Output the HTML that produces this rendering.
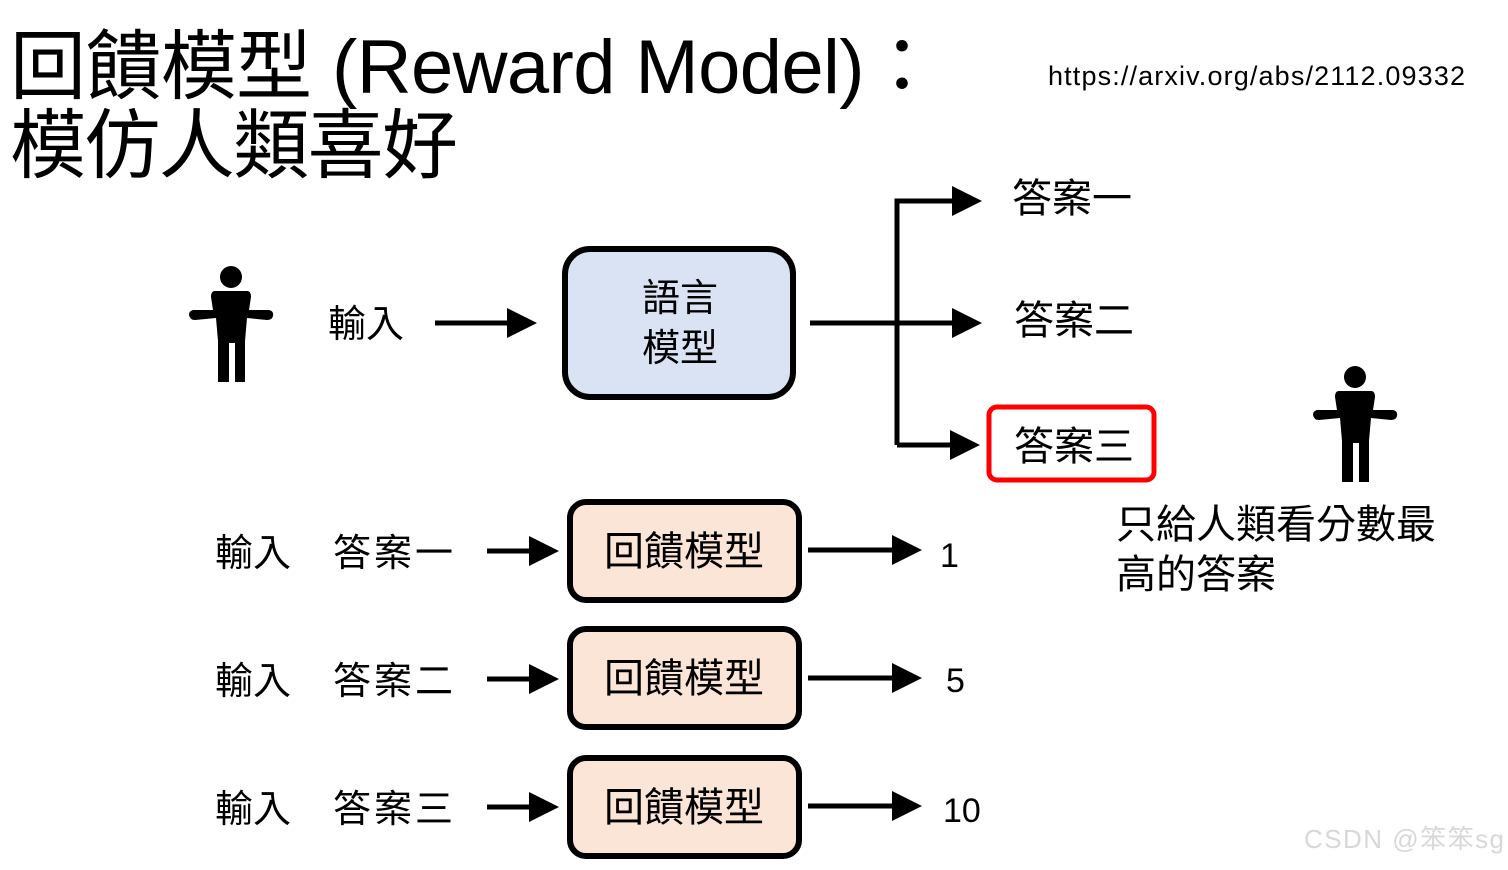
<!DOCTYPE html>
<html><head><meta charset="utf-8"><style>
html,body{margin:0;padding:0;background:#fff;}
svg text{font-family:"Liberation Sans","Noto Sans CJK TC",sans-serif;fill:#000;}
</style></head><body>
<svg width="1508" height="865" viewBox="0 0 1508 865" xmlns="http://www.w3.org/2000/svg">
<defs>
<marker id="ah" markerWidth="6" markerHeight="6" refX="5" refY="3" orient="auto" markerUnits="strokeWidth">
<path d="M0,0 L6,3 L0,6 z" fill="#000"/></marker>
<g id="person">
<circle cx="0" cy="0" r="11"/>
<path d="M-16,14 L16,14 Q20,14 20,20 L18,33 L38,33 Q43,34 42,39 Q41,43 36,43 L16,41 L14,64 L14,105 L4,105 L4,66 L-2,66 L-2,105 L-13,105 L-13,64 L-15,41 L-36,43 Q-41,43 -42,38 Q-42,34 -38,33 L-18,33 L-20,20 Q-20,14 -16,14 Z"/>
</g>
</defs>
<text x="10" y="93" font-size="76" textLength="930">回饋模型 (Reward Model)：</text>
<text x="10" y="172" font-size="76" textLength="448">模仿人類喜好</text>
<text x="1048" y="85" font-size="27" textLength="417">https://arxiv.org/abs/2112.09332</text>

<use href="#person" x="231" y="277"/>
<use href="#person" x="1355" y="377"/>

<g stroke="#000" stroke-width="5" fill="none">
<line x1="435" y1="323" x2="532" y2="323" marker-end="url(#ah)"/>
<line x1="810" y1="323" x2="977" y2="323" marker-end="url(#ah)"/>
<polyline points="897,445 897,201 977,201" marker-end="url(#ah)"/>
<line x1="897" y1="445" x2="975" y2="445" marker-end="url(#ah)"/>
<line x1="487" y1="551" x2="554" y2="551" marker-end="url(#ah)"/>
<line x1="808" y1="550" x2="917" y2="550" marker-end="url(#ah)"/>
<line x1="487" y1="679" x2="554" y2="679" marker-end="url(#ah)"/>
<line x1="808" y1="678" x2="917" y2="678" marker-end="url(#ah)"/>
<line x1="487" y1="807" x2="554" y2="807" marker-end="url(#ah)"/>
<line x1="808" y1="806" x2="917" y2="806" marker-end="url(#ah)"/>
</g>

<rect x="565" y="249" width="228" height="148" rx="25" fill="#dae3f3" stroke="#000" stroke-width="6"/>
<text x="680" y="311" font-size="38" text-anchor="middle">語言</text>
<text x="680" y="361" font-size="38" text-anchor="middle">模型</text>
<text x="328" y="337" font-size="38">輸入</text>

<text x="1012" y="212" font-size="40">答案一</text>
<text x="1014" y="334" font-size="40">答案二</text>
<rect x="989" y="407" width="165" height="73" rx="8" fill="none" stroke="#f00" stroke-width="5"/>
<text x="1014" y="460" font-size="40">答案三</text>

<text x="1116" y="538" font-size="40">只給人類看分數最</text>
<text x="1116" y="588" font-size="40">高的答案</text>

<g>
<rect x="570" y="502" width="229" height="98" rx="16" fill="#fbe5d6" stroke="#000" stroke-width="6"/>
<text x="684" y="565" font-size="40" text-anchor="middle">回饋模型</text>
<text x="215" y="566" font-size="38">輸入</text>
<text x="333" y="566" font-size="38" textLength="120">答案一</text>
<text x="940" y="567" font-size="34">1</text>

<rect x="570" y="629" width="229" height="98" rx="16" fill="#fbe5d6" stroke="#000" stroke-width="6"/>
<text x="684" y="692" font-size="40" text-anchor="middle">回饋模型</text>
<text x="215" y="694" font-size="38">輸入</text>
<text x="333" y="694" font-size="38" textLength="120">答案二</text>
<text x="946" y="692" font-size="34">5</text>

<rect x="570" y="758" width="229" height="98" rx="16" fill="#fbe5d6" stroke="#000" stroke-width="6"/>
<text x="684" y="821" font-size="40" text-anchor="middle">回饋模型</text>
<text x="215" y="822" font-size="38">輸入</text>
<text x="333" y="822" font-size="38" textLength="120">答案三</text>
<text x="943" y="822" font-size="34">10</text>
</g>
<text x="1304" y="848" font-size="26" style="fill:#d8d8d8" textLength="200">CSDN @笨笨sg</text>
</svg>
</body></html>
